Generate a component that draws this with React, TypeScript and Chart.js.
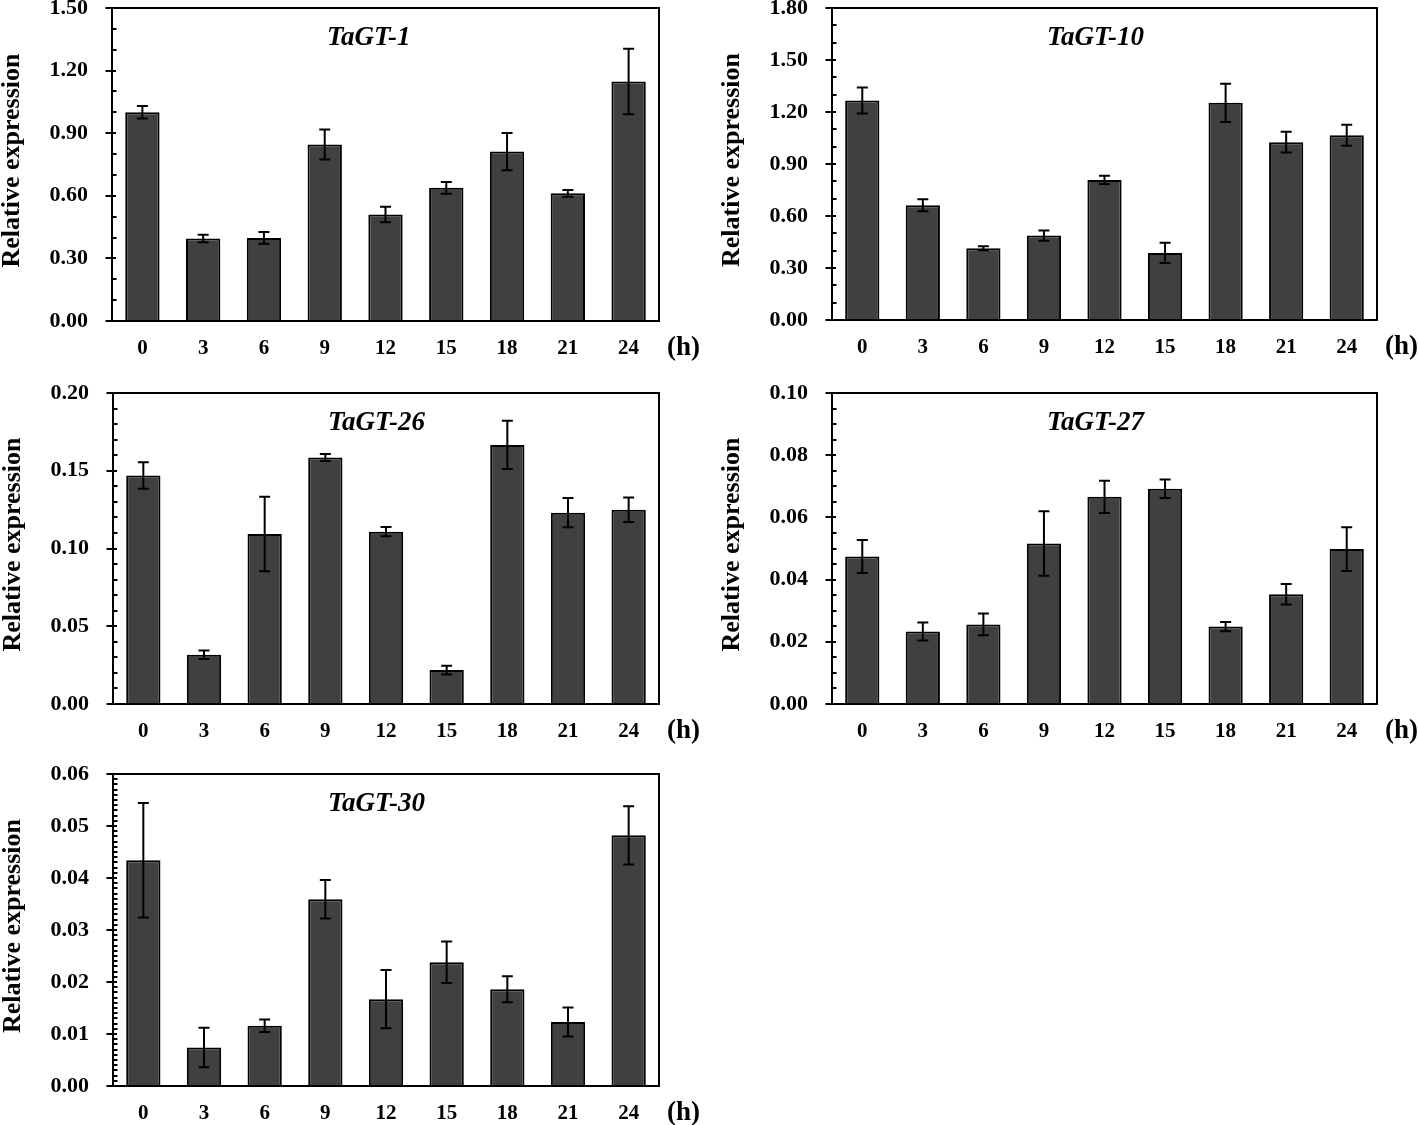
import React, { useEffect, useRef } from "react";
import { Chart, registerables } from "chart.js";

Chart.register(...registerables);

// ---------- data ----------
const hours = ["0", "3", "6", "9", "12", "15", "18", "21", "24"];

const gt1Mean = [1.0, 0.395, 0.398, 0.846, 0.51, 0.638, 0.812, 0.612, 1.148];
const gt1Err = [0.03, 0.018, 0.028, 0.072, 0.037, 0.028, 0.089, 0.016, 0.157];

const gt10Mean = [1.266, 0.662, 0.414, 0.487, 0.808, 0.387, 1.253, 1.026, 1.066];
const gt10Err = [0.075, 0.035, 0.012, 0.03, 0.024, 0.058, 0.11, 0.06, 0.06];

const gt26Mean = [0.147, 0.0317, 0.1093, 0.1585, 0.1108, 0.0218, 0.1666, 0.123, 0.1249];
const gt26Err = [0.0085, 0.0027, 0.024, 0.0022, 0.003, 0.0028, 0.0155, 0.0094, 0.0079];

const gt27Mean = [0.0474, 0.0233, 0.0256, 0.0516, 0.0666, 0.0692, 0.0249, 0.0353, 0.0498];
const gt27Err = [0.0053, 0.0029, 0.0035, 0.0104, 0.0052, 0.003, 0.0015, 0.0033, 0.007];

const gt30Mean = [0.0434, 0.0074, 0.0116, 0.0359, 0.0167, 0.0238, 0.0186, 0.0123, 0.0482];
const gt30Err = [0.011, 0.0038, 0.0012, 0.0037, 0.0056, 0.004, 0.0025, 0.0028, 0.0056];

// y axis: [max, major step, minor step]
const gt1Axis = [1.5, 0.3, 0.1];
const gt10Axis = [1.8, 0.3, 0.1];
const gt26Axis = [0.2, 0.05, 0.01];
const gt27Axis = [0.1, 0.02, 0.005];
const gt30Axis = [0.06, 0.01, 0.001];

const geneNames = ["TaGT-1", "TaGT-10", "TaGT-26", "TaGT-27", "TaGT-30"];
const yTitle = "Relative expression";
const unitLabel = "(h)";

// ---------- layout ----------
type Panel = {
  name: string;
  mean: number[];
  err: number[];
  axis: number[];
  cx: number; cy: number; cw: number; ch: number; // canvas
  left: number; top: number; right: number; bottom: number; // chart area within canvas
};

const panels: Panel[] = [
  { name: geneNames[0], mean: gt1Mean, err: gt1Err, axis: gt1Axis, cx: 0, cy: 0, cw: 710, ch: 372, left: 112, top: 8, right: 659, bottom: 321 },
  { name: geneNames[1], mean: gt10Mean, err: gt10Err, axis: gt10Axis, cx: 710, cy: 0, cw: 708, ch: 372, left: 122, top: 8, right: 667, bottom: 320 },
  { name: geneNames[2], mean: gt26Mean, err: gt26Err, axis: gt26Axis, cx: 0, cy: 372, cw: 710, ch: 380, left: 113, top: 21, right: 659, bottom: 332 },
  { name: geneNames[3], mean: gt27Mean, err: gt27Err, axis: gt27Axis, cx: 710, cy: 372, cw: 708, ch: 380, left: 122, top: 21, right: 667, bottom: 332 },
  { name: geneNames[4], mean: gt30Mean, err: gt30Err, axis: gt30Axis, cx: 0, cy: 752, cw: 710, ch: 373, left: 113, top: 22, right: 659, bottom: 334 },
];

const FONT = '"Liberation Serif", "Times New Roman", serif';

function decorPlugin(p: Panel) {
  return {
    id: "decor" + p.name,
    afterDatasetsDraw(chart: any) {
      const ctx = chart.ctx;
      const y = chart.scales.y;
      const meta = chart.getDatasetMeta(0);
      ctx.save();
      ctx.strokeStyle = "#000";
      ctx.lineWidth = 2;
      const cap = 5.5;
      meta.data.forEach((bar: any, i: number) => {
        const x = bar.x;
        const hi = y.getPixelForValue(p.mean[i] + p.err[i]);
        const lo = y.getPixelForValue(p.mean[i] - p.err[i]);
        ctx.beginPath();
        ctx.moveTo(x, hi);
        ctx.lineTo(x, lo);
        ctx.moveTo(x - cap, hi);
        ctx.lineTo(x + cap, hi);
        ctx.moveTo(x - cap, lo);
        ctx.lineTo(x + cap, lo);
        ctx.stroke();
      });
      ctx.restore();
    },
    afterDraw(chart: any) {
      const ctx = chart.ctx;
      const { left, top, right, bottom } = chart.chartArea;
      const y = chart.scales.y;
      const [max, step, minor] = p.axis;
      ctx.save();
      ctx.strokeStyle = "#000";
      ctx.lineWidth = 2;
      // frame
      ctx.strokeRect(left, top, right - left, bottom - top);
      // major ticks (crossing)
      const nMajor = Math.round(max / step);
      for (let k = 0; k <= nMajor; k++) {
        const py = Math.round(y.getPixelForValue(k * step));
        ctx.beginPath();
        ctx.moveTo(left - 6.5, py);
        ctx.lineTo(left + 4, py);
        ctx.stroke();
      }
      // minor ticks (inside)
      const nMinor = Math.round(max / minor);
      const per = Math.round(step / minor);
      for (let k = 0; k <= nMinor; k++) {
        if (k % per === 0) continue;
        const py = Math.round(y.getPixelForValue(k * minor));
        ctx.beginPath();
        ctx.moveTo(left, py);
        ctx.lineTo(left + 4.5, py);
        ctx.stroke();
      }
      ctx.fillStyle = "#000";
      // gene title
      ctx.font = "italic bold 27px " + FONT;
      ctx.textAlign = "left";
      ctx.textBaseline = "middle";
      ctx.fillText(p.name, left + 215, top + 30);
      // (h)
      ctx.font = "bold 27px " + FONT;
      ctx.fillText(unitLabel, right + 8, bottom + 27);
      // y title
      ctx.font = "bold 26px " + FONT;
      ctx.translate(left - 100, (top + bottom) / 2 - 4);
      ctx.rotate(-Math.PI / 2);
      ctx.textAlign = "center";
      ctx.fillText(yTitle, 0, 0);
      ctx.restore();
    },
  };
}

function PanelChart({ p }: { p: Panel }) {
  const ref = useRef<HTMLCanvasElement | null>(null);
  useEffect(() => {
    if (!ref.current) return;
    const [max, step] = p.axis;
    const chart = new Chart(ref.current, {
      type: "bar",
      data: {
        labels: hours,
        datasets: [
          {
            data: p.mean,
            backgroundColor: "#404040",
            borderColor: "#000",
            borderWidth: 2,
            barPercentage: 0.565,
            categoryPercentage: 1,
          },
        ],
      },
      options: {
        responsive: false,
        animation: false,
        devicePixelRatio: 1,
        layout: { padding: { top: p.top, right: p.cw - p.right, left: 0, bottom: 0 } },
        plugins: { legend: { display: false }, tooltip: { enabled: false }, title: { display: false } },
        scales: {
          x: {
            offset: true,
            grid: { display: false, drawTicks: false },
            border: { display: false },
            ticks: {
              color: "#000",
              font: { family: FONT, size: 21, weight: "bold" },
              padding: 15,
              maxRotation: 0,
              autoSkip: false,
            },
            afterFit: (s: any) => {
              s.height = p.ch - p.bottom;
              s.paddingLeft = 0;
              s.paddingRight = 0;
            },
          },
          y: {
            min: 0,
            max: max,
            grid: { display: false, drawTicks: false },
            border: { display: false },
            ticks: {
              stepSize: step,
              color: "#000",
              font: { family: FONT, size: 22, weight: "bold" },
              padding: 24,
              autoSkip: false,
              callback: (v: any) => Number(v).toFixed(2),
            },
            afterFit: (s: any) => {
              s.width = p.left;
              s.paddingTop = 0;
              s.paddingBottom = 0;
            },
          },
        },
      },
      plugins: [decorPlugin(p)],
    } as any);
    return () => chart.destroy();
  }, [p]);
  return (
    <canvas
      ref={ref}
      width={p.cw}
      height={p.ch}
      style={{ position: "absolute", left: p.cx, top: p.cy, width: p.cw, height: p.ch }}
    />
  );
}

export default function App() {
  return (
    <div style={{ position: "absolute", left: 0, top: 0, width: 1418, height: 1125, background: "#fff" }}>
      {panels.map((p) => (
        <PanelChart key={p.name} p={p} />
      ))}
    </div>
  );
}
